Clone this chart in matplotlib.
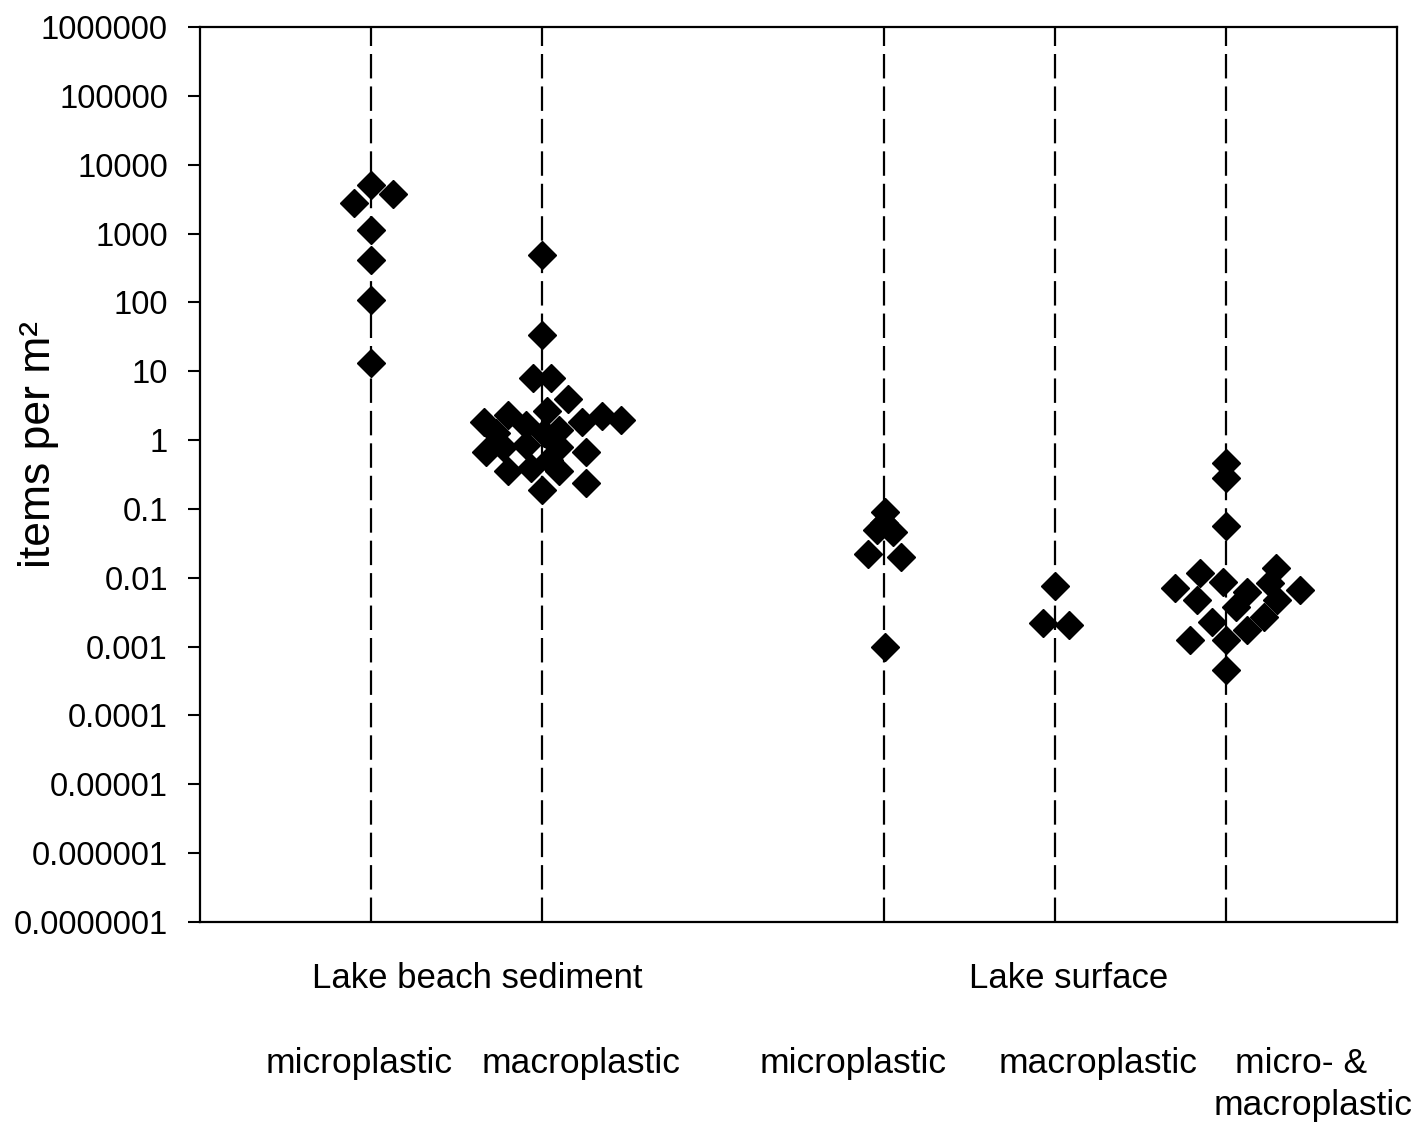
import numpy as np
import matplotlib
matplotlib.use("Agg")
import matplotlib.pyplot as plt
from matplotlib.ticker import FixedLocator, NullLocator
import matplotlib.transforms as mtransforms

plt.rcParams['font.family'] = ['Liberation Sans', 'DejaVu Sans']

# category positions on the x axis (gap between the two sites)
positions = [1, 2, 4, 5, 6]

# items per m2, with the small horizontal spread of each point
beach_micro = [5000, 2750, 3800, 1120, 410, 108, 13]
beach_micro_dx = [0, -0.10, 0.13, 0, 0, 0, 0]

beach_macro = [487, 33.5, 8.0, 8.0, 4.0, 2.6, 1.84, 2.3, 1.65, 1.84, 2.2, 1.95, 1.4,
               1.25, 1.25, 0.68, 0.8, 0.85, 0.8, 0.68, 0.51, 0.35, 0.39, 0.35, 0.235, 0.19]
beach_macro_dx = [0, 0, -0.05, 0.055, 0.15, 0.03, -0.34, -0.20, -0.095, 0.235, 0.35, 0.46, 0.10,
                  0.01, -0.27, -0.33, -0.23, -0.095, 0.10, 0.255, 0.04, -0.20, -0.066, 0.10, 0.255, 0]

surface_micro = [0.091, 0.062, 0.049, 0.046, 0.0225, 0.020, 0.001]
surface_micro_dx = [0.005, 0, -0.043, 0.054, -0.092, 0.10, 0.005]

surface_macro = [0.0076, 0.00223, 0.00205]
surface_macro_dx = [0, -0.068, 0.084]

surface_both = [0.46, 0.28, 0.056, 0.0070, 0.0116, 0.0087, 0.0048, 0.0063, 0.0137, 0.0083,
                0.0066, 0.0038, 0.0027, 0.0048, 0.0023, 0.00174, 0.00126, 0.00126, 0.00046]
surface_both_dx = [0, 0, 0, -0.30, -0.15, -0.02, -0.17, 0.125, 0.29, 0.26,
                   0.43, 0.06, 0.22, 0.30, -0.08, 0.125, -0.21, 0, 0]

groups = [beach_micro, beach_macro, surface_micro, surface_macro, surface_both]
offsets = [beach_micro_dx, beach_macro_dx, surface_micro_dx, surface_macro_dx, surface_both_dx]

ytick_values = [1e-7, 1e-6, 1e-5, 1e-4, 1e-3, 1e-2, 1e-1, 1, 10, 100, 1000, 10000, 100000, 1000000]
ytick_labels = ['0.0000001', '0.000001', '0.00001', '0.0001', '0.001', '0.01', '0.1',
                '1', '10', '100', '1000', '10000', '100000', '1000000']

site_labels = ['Lake beach sediment', 'Lake surface']
site_x = [1.62, 5.08]
type_labels = ['microplastic', 'macroplastic', 'microplastic', 'macroplastic', 'micro- &', 'macroplastic']
type_x = [0.93, 2.23, 3.82, 5.25, 6.44, 6.51]
type_y = [0.0634, 0.0634, 0.0634, 0.0634, 0.0634, 0.0264]

fig = plt.figure(figsize=(14.21, 11.35), dpi=100)
ax = fig.add_axes([0.1407, 0.1877, 0.8424, 0.7885])

for p in positions:
    ax.axvline(p, color='black', lw=1.6, linestyle=(0, (11, 3.6)), zorder=1)

for p, vals, dx in zip(positions, groups, offsets):
    xs = [p + d for d in dx]
    ax.plot(xs, vals, linestyle='none', marker='D', ms=14.5, color='black', zorder=3)

ax.set_yscale('log')
ax.set_ylim(1e-7, 1e6)
ax.set_xlim(0, 7)
ax.yaxis.set_major_locator(FixedLocator(ytick_values))
ax.set_yticklabels(ytick_labels)
ax.yaxis.set_minor_locator(NullLocator())
ax.xaxis.set_major_locator(NullLocator())
ax.tick_params(axis='y', labelsize=23.5, length=9, width=1.5, direction='out', pad=14)
for s in ax.spines.values():
    s.set_linewidth(1.6)

ax.set_ylabel('items per m²', fontsize=32)
ax.yaxis.set_label_coords(-0.118, 0.534)

trans = mtransforms.blended_transform_factory(ax.transData, fig.transFigure)
for lbl, x in zip(site_labels, site_x):
    ax.text(x, 0.1383, lbl, transform=trans, ha='center', va='center', fontsize=25)
for lbl, x, y in zip(type_labels, type_x, type_y):
    ax.text(x, y, lbl, transform=trans, ha='center', va='center', fontsize=25.5)

fig.savefig('out.png', dpi=100)
